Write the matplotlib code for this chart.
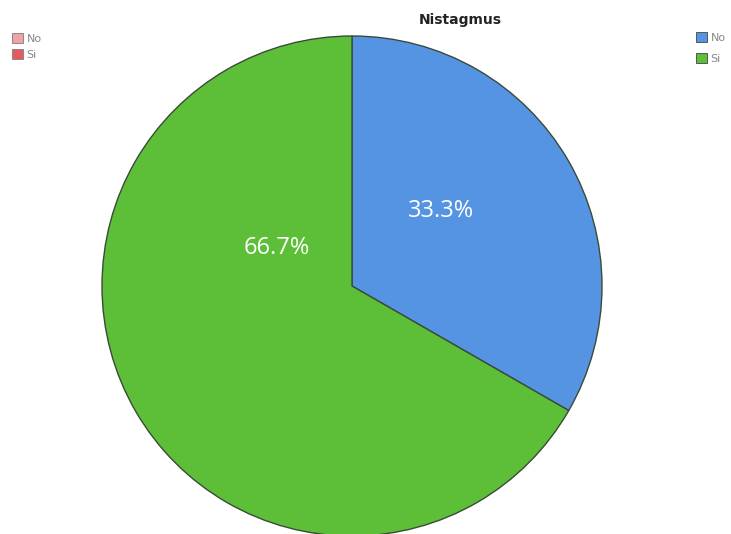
import matplotlib
matplotlib.use("Agg")
import matplotlib.pyplot as plt
from matplotlib.patches import Patch

categorias = ["No", "Si"]
porcentajes = [33.3, 66.7]
colores = ["#5594E2", "#5DBF38"]
colores_leyenda_izq = ["#F0A3A6", "#E65A5E"]

fig = plt.figure(figsize=(7.31, 5.34), dpi=100)
fig.patch.set_facecolor("white")

# Ejes cuadrados; el círculo se sale un poco por abajo
ax = fig.add_axes([102 / 731, -2 / 534, 500 / 731, 500 / 534])
ax.pie(porcentajes, colors=colores, startangle=90, counterclock=False,
       radius=1.0, wedgeprops=dict(edgecolor="#3a4a3a", linewidth=1.0))
ax.set_xlim(-1, 1)
ax.set_ylim(-1, 1)
ax.set_aspect("equal")
ax.axis("off")

# Etiquetas de porcentaje
posiciones = [(0.356, 0.30), (-0.30, 0.152)]
for p, (x, y) in zip(porcentajes, posiciones):
    ax.text(x, y, f"{p:.1f}%", color="white", fontsize=17,
            family="Open Sans", ha="center", va="center")

fig.text(460 / 731, 1 - 20 / 534, "Nistagmus", fontsize=10, fontweight="bold",
         color="#222222", ha="center", va="center")

# Leyendas
h_der = [Patch(facecolor=c, edgecolor="#555555", linewidth=0.7) for c in colores]
h_izq = [Patch(facecolor=c, edgecolor="#888888", linewidth=0.7) for c in colores_leyenda_izq]
estilo = dict(frameon=False, fontsize=8, handlelength=1.0, handleheight=1.0,
              handletextpad=0.3, borderpad=0, borderaxespad=0, labelcolor="#888888")
fig.legend(h_izq, categorias, loc="upper left", labelspacing=0.5,
           bbox_to_anchor=(12 / 731, 1 - 33 / 534), **estilo)
fig.legend(h_der, categorias, loc="upper left", labelspacing=0.9,
           bbox_to_anchor=(696 / 731, 1 - 32 / 534), **estilo)

fig.savefig("out.png", dpi=100)
